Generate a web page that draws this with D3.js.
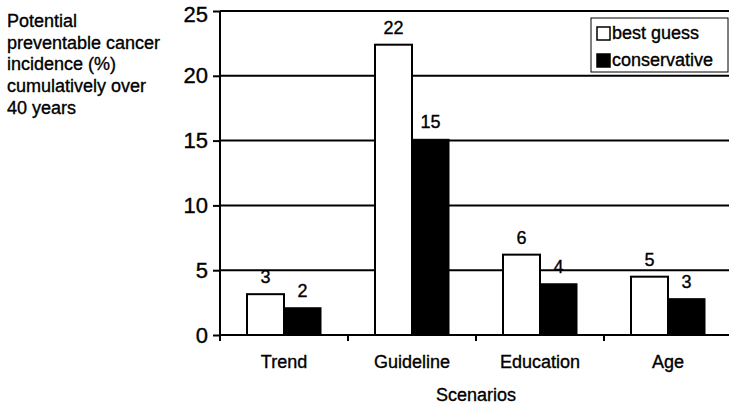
<!DOCTYPE html>
<html>
<head>
<meta charset="utf-8">
<script src="https://d3js.org/d3.v7.min.js"></script>
<style>
  body { margin: 0; background: #fff; }
  text { font-family: "Liberation Sans", Arial, Helvetica, sans-serif; fill: #000; stroke: #000; stroke-width: 0.35px; }
</style>
</head>
<body>
<div id="chart-area"></div>
<script>
// data
var scenarios = ["Trend", "Guideline", "Education", "Age"];
var bestGuess = [3.15, 22.4, 6.2, 4.5];
var conservative = [2.1, 15.1, 3.95, 2.8];
var bestLabels = ["3", "22", "6", "5"];
var consLabels = ["2", "15", "4", "3"];
var yTicks = [0, 5, 10, 15, 20, 25];
var seriesNames = ["best guess", "conservative"];

var outerWidth = 729;
var outerHeight = 406;

var margin = { left: 220, right: -3, top: 11, bottom: 71 };
var width = outerWidth - margin.left - margin.right;
var height = outerHeight - margin.top - margin.bottom;

var svg = d3.select("#chart-area")
  .append("svg")
  .attr("width", outerWidth)
  .attr("height", outerHeight);

var g = svg.append("g")
  .attr("transform", "translate(" + margin.left + "," + margin.top + ")");

// scales
var x = d3.scaleBand()
  .domain(scenarios)
  .range([0, width])
  .padding(0);

var y = d3.scaleLinear()
  .domain([0, 25])
  .range([height, 0]);

var barW = 37;

// gridlines
g.selectAll(".grid")
  .data(yTicks.filter(function(d) { return d > 0; }))
  .enter()
  .append("line")
  .attr("x1", 0)
  .attr("x2", width)
  .attr("y1", function(d) { return y(d); })
  .attr("y2", function(d) { return y(d); })
  .attr("stroke", "#000")
  .attr("stroke-width", 2);

var rows = scenarios.map(function(s, i) {
  return { name: s, best: bestGuess[i], cons: conservative[i], bl: bestLabels[i], cl: consLabels[i] };
});

// best guess bars
g.selectAll(".best")
  .data(rows)
  .enter()
  .append("rect")
  .attr("x", function(d) { return x(d.name) + x.bandwidth() / 2 - barW; })
  .attr("y", function(d) { return y(d.best); })
  .attr("width", barW)
  .attr("height", function(d) { return height - y(d.best); })
  .attr("fill", "#fff")
  .attr("stroke", "#000")
  .attr("stroke-width", 2);

// conservative bars
g.selectAll(".cons")
  .data(rows)
  .enter()
  .append("rect")
  .attr("x", function(d) { return x(d.name) + x.bandwidth() / 2; })
  .attr("y", function(d) { return y(d.cons); })
  .attr("width", barW)
  .attr("height", function(d) { return height - y(d.cons); })
  .attr("fill", "#000")
  .attr("stroke", "#000")
  .attr("stroke-width", 1);

// value labels
g.selectAll(".bl")
  .data(rows)
  .enter()
  .append("text")
  .attr("x", function(d) { return x(d.name) + x.bandwidth() / 2 - barW / 2; })
  .attr("y", function(d) { return y(d.best) - 11; })
  .attr("text-anchor", "middle")
  .attr("font-size", "18px")
  .text(function(d) { return d.bl; });

g.selectAll(".cl")
  .data(rows)
  .enter()
  .append("text")
  .attr("x", function(d) { return x(d.name) + x.bandwidth() / 2 + barW / 2; })
  .attr("y", function(d) { return y(d.cons) - 11; })
  .attr("text-anchor", "middle")
  .attr("font-size", "18px")
  .text(function(d) { return d.cl; });

// left axis
var yAxis = d3.axisLeft(y)
  .tickValues(yTicks)
  .tickSize(7)
  .tickPadding(5);

var yg = g.append("g").call(yAxis);
yg.select(".domain").attr("stroke-width", 2).attr("d", "M0," + y(25) + "V" + height);
yg.selectAll(".tick line").attr("stroke-width", 2);
yg.selectAll("text")
  .attr("font-size", "22px")
  .attr("font-family", "Liberation Sans, Arial, sans-serif");
// keep the top label inside the page
yg.selectAll(".tick")
  .filter(function(d) { return d === 25; })
  .select("text")
  .attr("y", 3);

// bottom axis
var xg = g.append("g")
  .attr("transform", "translate(0," + height + ")");
xg.append("line")
  .attr("x1", 0).attr("x2", width)
  .attr("stroke", "#000")
  .attr("stroke-width", 2);
xg.selectAll(".xt")
  .data(scenarios)
  .enter()
  .append("line")
  .attr("x1", function(d) { return x(d); })
  .attr("x2", function(d) { return x(d); })
  .attr("y1", 0)
  .attr("y2", 6)
  .attr("stroke", "#000")
  .attr("stroke-width", 2);
xg.selectAll(".xl")
  .data(scenarios)
  .enter()
  .append("text")
  .attr("x", function(d) { return x(d) + x.bandwidth() / 2; })
  .attr("y", 33)
  .attr("text-anchor", "middle")
  .attr("font-size", "18px")
  .text(function(d) { return d; });

// x title
g.append("text")
  .attr("x", width / 2)
  .attr("y", height + 66)
  .attr("text-anchor", "middle")
  .attr("font-size", "18px")
  .text("Scenarios");

// y title
var yTitle = ["Potential", "preventable cancer", "incidence (%)", "cumulatively over", "40 years"];
svg.append("text")
  .attr("font-size", "18px")
  .selectAll("tspan")
  .data(yTitle)
  .enter()
  .append("tspan")
  .attr("x", 7)
  .attr("y", function(d, i) { return 27 + i * 21.7; })
  .text(function(d) { return d; });

// legend
var lg = svg.append("g").attr("transform", "translate(591,18)");
lg.append("rect")
  .attr("width", 137)
  .attr("height", 54)
  .attr("fill", "#fff")
  .attr("stroke", "#000")
  .attr("stroke-width", 1);
seriesNames.forEach(function(name, i) {
  lg.append("rect")
    .attr("x", 6)
    .attr("y", 9 + i * 27)
    .attr("width", 13)
    .attr("height", 13)
    .attr("fill", i === 0 ? "#fff" : "#000")
    .attr("stroke", "#000")
    .attr("stroke-width", 1.5);
  lg.append("text")
    .attr("x", 21)
    .attr("y", 21 + i * 27)
    .attr("font-size", "18px")
    .text(name);
});
</script>
</body>
</html>
